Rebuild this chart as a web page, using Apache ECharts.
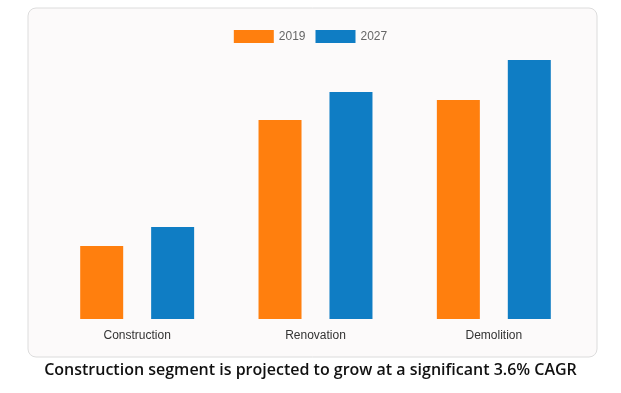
<!DOCTYPE html>
<html><head><meta charset="utf-8">
<script src="https://cdn.jsdelivr.net/npm/echarts@6/dist/echarts.min.js"></script>
<style>html,body{margin:0;padding:0;background:#fff}#c{width:621px;height:393px}</style>
</head><body><div id="c"></div>
<script>
const categories = ["Construction", "Renovation", "Demolition"];
const series2019 = [7.3, 19.9, 21.9];
const series2027 = [9.2, 22.7, 25.9];
const seriesNames = ["2019", "2027"];
const caption = "Construction segment is projected to grow at a significant 3.6% CAGR";

const chart = echarts.init(document.getElementById('c'), null, {renderer:'canvas'});
chart.setOption({
  animation:false,
  graphic:[
    {type:'rect', left:27.5, top:7.5, z:-10, shape:{width:569, height:349, r:8},
     style:{fill:'#fcfafa', stroke:'#dcdcdc', lineWidth:1}},
    {type:'text', left:'center', top:362, style:{text:caption, font:'600 16px "Open Sans"', fill:'#111'}}
  ],
  legend:{top:25, left:'center', itemWidth:40, itemHeight:13, itemGap:10,
    textStyle:{color:'#666', fontSize:12, fontFamily:'Arial, "Liberation Sans"'}, icon:'rect'},
  grid:{left:48, right:38, top:39, bottom:74},
  xAxis:{type:'category', data:categories, axisLine:{show:false}, axisTick:{show:false},
    axisLabel:{color:'#333', fontSize:12, fontFamily:'Arial, "Liberation Sans"', margin:11}},
  yAxis:{type:'value', min:0, max:28, show:false, splitLine:{show:false}},
  series:[
    {name:seriesNames[0], type:'bar', data:series2019, barWidth:43, barGap:'65%', itemStyle:{color:'#ff7f0e'}},
    {name:seriesNames[1], type:'bar', data:series2027, barWidth:43, itemStyle:{color:'#0f7dc4'}}
  ]
});
</script></body></html>
